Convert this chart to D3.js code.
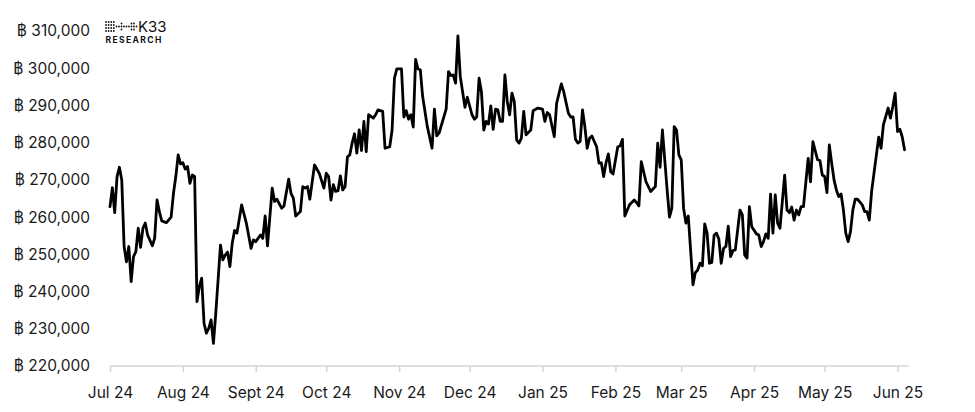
<!DOCTYPE html>
<html>
<head>
<meta charset="utf-8">
<script src="https://cdn.jsdelivr.net/npm/d3@7"></script>
<style>
  html, body { margin: 0; padding: 0; background: #ffffff; }
  svg { display: block; }
  text { font-family: Inter, "Open Sans", "DejaVu Sans", sans-serif; }
</style>
</head>
<body>
<svg id="chart" width="975" height="412"></svg>
<script>
const dates = [
  "2024-07-01","2024-07-02","2024-07-03","2024-07-04","2024-07-05","2024-07-06","2024-07-07","2024-07-08","2024-07-09","2024-07-10",
  "2024-07-11","2024-07-12","2024-07-13","2024-07-14","2024-07-15","2024-07-16","2024-07-17","2024-07-19","2024-07-20","2024-07-21",
  "2024-07-22","2024-07-23","2024-07-25","2024-07-27","2024-07-28","2024-07-29","2024-07-30","2024-07-31",
  "2024-08-01","2024-08-02","2024-08-03","2024-08-04","2024-08-05","2024-08-06","2024-08-07","2024-08-08","2024-08-09","2024-08-10",
  "2024-08-11","2024-08-12","2024-08-13","2024-08-14","2024-08-15","2024-08-17","2024-08-18","2024-08-19","2024-08-20","2024-08-21",
  "2024-08-22","2024-08-23","2024-08-24","2024-08-26","2024-08-28","2024-08-30","2024-08-31",
  "2024-09-01","2024-09-03","2024-09-04","2024-09-05","2024-09-06","2024-09-08","2024-09-09","2024-09-10","2024-09-12","2024-09-13",
  "2024-09-15","2024-09-16","2024-09-17","2024-09-18","2024-09-20","2024-09-21","2024-09-22","2024-09-23","2024-09-24","2024-09-26",
  "2024-09-28","2024-09-30",
  "2024-10-01","2024-10-02","2024-10-03","2024-10-04","2024-10-05","2024-10-06","2024-10-07","2024-10-08","2024-10-09","2024-10-10",
  "2024-10-11","2024-10-12","2024-10-13","2024-10-14","2024-10-15","2024-10-16","2024-10-17","2024-10-18","2024-10-19","2024-10-21",
  "2024-10-22","2024-10-23","2024-10-25","2024-10-26","2024-10-28","2024-10-29","2024-10-30","2024-10-31",
  "2024-11-02","2024-11-03","2024-11-04","2024-11-05","2024-11-06","2024-11-07","2024-11-08","2024-11-09","2024-11-10","2024-11-11",
  "2024-11-13","2024-11-15","2024-11-16","2024-11-17","2024-11-18","2024-11-21","2024-11-22","2024-11-23","2024-11-24","2024-11-25",
  "2024-11-26","2024-11-27","2024-11-29","2024-11-30",
  "2024-12-02","2024-12-03","2024-12-04","2024-12-05","2024-12-06","2024-12-07","2024-12-08","2024-12-09","2024-12-10","2024-12-11",
  "2024-12-12","2024-12-13","2024-12-14","2024-12-15","2024-12-16","2024-12-17","2024-12-18","2024-12-19","2024-12-20","2024-12-21",
  "2024-12-22","2024-12-23","2024-12-24","2024-12-25","2024-12-27","2024-12-28","2024-12-30",
  "2025-01-01","2025-01-02","2025-01-03","2025-01-04","2025-01-06","2025-01-07","2025-01-09","2025-01-10","2025-01-12","2025-01-13",
  "2025-01-14","2025-01-15","2025-01-16","2025-01-17","2025-01-18","2025-01-19","2025-01-20","2025-01-21","2025-01-22","2025-01-24",
  "2025-01-25","2025-01-26","2025-01-27","2025-01-28","2025-01-29","2025-01-30","2025-01-31",
  "2025-02-02","2025-02-03","2025-02-04","2025-02-05","2025-02-07","2025-02-09","2025-02-10","2025-02-11","2025-02-12","2025-02-14",
  "2025-02-16","2025-02-18","2025-02-19","2025-02-20","2025-02-21","2025-02-23","2025-02-24","2025-02-25","2025-02-26","2025-02-27",
  "2025-02-28",
  "2025-03-01","2025-03-02","2025-03-03","2025-03-04","2025-03-06","2025-03-07","2025-03-08","2025-03-09","2025-03-10","2025-03-11",
  "2025-03-12","2025-03-13","2025-03-14","2025-03-15","2025-03-16","2025-03-17","2025-03-18","2025-03-19","2025-03-20","2025-03-21",
  "2025-03-22","2025-03-23","2025-03-24","2025-03-26","2025-03-27","2025-03-28","2025-03-29","2025-03-30","2025-03-31",
  "2025-04-02","2025-04-03","2025-04-04","2025-04-05","2025-04-06","2025-04-07","2025-04-08","2025-04-09","2025-04-10","2025-04-11",
  "2025-04-12","2025-04-14","2025-04-15","2025-04-16","2025-04-17","2025-04-18","2025-04-19","2025-04-20","2025-04-21","2025-04-22",
  "2025-04-24","2025-04-25","2025-04-26","2025-04-28","2025-04-29","2025-04-30",
  "2025-05-01","2025-05-02","2025-05-03","2025-05-04","2025-05-05","2025-05-06","2025-05-07","2025-05-08","2025-05-09","2025-05-10",
  "2025-05-11","2025-05-12","2025-05-13","2025-05-14","2025-05-15","2025-05-17","2025-05-18","2025-05-19","2025-05-20","2025-05-21",
  "2025-05-22","2025-05-24","2025-05-25","2025-05-26","2025-05-28","2025-05-29","2025-05-30","2025-05-31",
  "2025-06-01","2025-06-02","2025-06-03","2025-06-04"
];

const values = [
  262800,267900,261200,270900,273400,270000,252100,248000,252100,242700,
  249400,250700,257000,251900,257000,258400,255200,252300,254300,264600,
  261500,259000,258500,260000,266400,270900,276700,274300,
  274600,272900,273600,269100,271300,270900,237300,241300,243600,231500,
  228800,230100,232400,226100,234200,252500,248500,249800,250600,246700,
  253000,256400,255700,263300,258400,251600,253900,
  253400,255200,254300,260300,252300,267800,264200,264800,262400,263000,
  270200,266400,265100,260300,261500,268200,267800,268200,264800,274000,
  271800,267800,
  271800,270900,264600,268700,266900,267100,271100,267300,268200,276200,
  276700,279900,282400,277200,283400,277900,285700,277600,287500,286600,
  287500,288800,288400,278500,278900,283400,297300,299800,
  299800,286900,288600,286300,287500,284200,302400,299800,299600,292400,
  284300,278500,289000,281800,282600,289000,299100,298000,298200,296000,
  308700,297800,289500,292200,
  287500,286300,286900,297300,293700,283400,285700,285000,289900,283600,
  289000,288800,285700,285700,298200,291000,287500,293300,291000,280700,
  279900,281200,288400,282100,283400,288600,289300,
  289000,285700,288100,287500,281600,290600,295800,293700,287900,286900,
  286900,280900,279900,280300,288800,284300,278500,281200,281800,278900,
  274500,274600,270900,274600,277000,272200,271600,
  278900,279100,280900,260300,263300,264600,263900,263000,274900,269500,
  266900,268200,279900,273400,283400,267300,260000,262400,284300,283400,
  276700,
  275400,262400,258400,260300,241800,245100,245800,247600,246900,258200,
  255700,247600,247800,255200,255700,254100,247600,251600,252100,257600,
  249400,251000,251200,261900,260600,249800,249000,262800,257400,
  255500,255200,252100,253400,255500,254300,266200,255700,266000,258400,
  257000,271300,261900,261200,262700,259200,261900,260600,262800,262800,
  275800,269500,280300,275400,275200,271300,
  270900,266600,279400,274500,270000,267300,265500,266200,261900,255700,
  253400,256100,261900,264800,264800,263300,261500,261500,259200,266900,
  271800,281500,278500,284800,289300,286600,289700,293300,
  283000,283600,281600,278100
];

const yTicks = [220000,230000,240000,250000,260000,270000,280000,290000,300000,310000];
const xTickDates = ["2024-07-01","2024-08-01","2024-09-01","2024-10-01","2024-11-01","2024-12-01",
                    "2025-01-01","2025-02-01","2025-03-01","2025-04-01","2025-05-01","2025-06-01"];
const xTickLabels = ["Jul 24","Aug 24","Sept 24","Oct 24","Nov 24","Dec 24",
                     "Jan 25","Feb 25","Mar 25","Apr 25","May 25","Jun 25"];

const parse = d3.utcParse("%Y-%m-%d");
const data = dates.map((d, i) => ({ date: parse(d), value: values[i] }));

const svg = d3.select("#chart");

const x = d3.scaleUtc()
  .domain([parse("2024-07-01"), parse("2025-06-01")])
  .range([110, 897.5]);

const y = d3.scaleLinear()
  .domain([220000, 310000])
  .range([366, 31]);

// Y axis labels (no axis line)
const fmt = d3.format(",");
svg.append("g")
  .selectAll("text")
  .data(yTicks)
  .join("text")
  .attr("x", 90)
  .attr("y", d => y(d))
  .attr("dy", "0.35em")
  .attr("text-anchor", "end")
  .attr("fill", "#1a1a1a")
  .style("font-size", "15.5px")
  .text(d => "฿ " + fmt(d));

// X axis
const xAxis = d3.axisBottom(x)
  .tickValues(xTickDates.map(parse))
  .tickFormat((d, i) => xTickLabels[i])
  .tickSize(6)
  .tickSizeOuter(0)
  .tickPadding(15);

const gx = svg.append("g")
  .attr("transform", "translate(0,366)")
  .call(xAxis);
gx.select(".domain").attr("stroke", "#d4d4d4").attr("stroke-width", 1.5)
  .attr("d", `M110,0H${x(parse("2025-06-04")) + 4}`);
gx.selectAll(".tick line").attr("stroke", "#d4d4d4").attr("stroke-width", 1.5);
gx.selectAll(".tick text")
  .attr("fill", "#1a1a1a")
  .style("font-size", "15.5px")
  .style("font-family", "Inter, 'Open Sans', 'DejaVu Sans', sans-serif");

// Line
const line = d3.line()
  .x(d => x(d.date))
  .y(d => y(d.value));

svg.append("path")
  .datum(data)
  .attr("fill", "none")
  .attr("stroke", "#000000")
  .attr("stroke-width", 2.8)
  .attr("stroke-linejoin", "round")
  .attr("stroke-linecap", "round")
  .attr("d", line);

// Logo
const logo = svg.append("g").attr("transform", "translate(106,22)");
const dotCols = [0, 2.6, 5.2, 7.8];
[0, 3, 6, 9].forEach(yy => dotCols.forEach(xx => {
  logo.append("circle").attr("cx", xx).attr("cy", yy).attr("r", 0.9).attr("fill", "#111");
}));
[10.5, 13, 15.5, 18, 20.5, 23, 25.5, 28, 30.5].forEach(xx => {
  logo.append("circle").attr("cx", xx).attr("cy", 4.5).attr("r", 0.9).attr("fill", "#111");
});
[[15.5,1.5],[15.5,7.5],[25.5,1.5],[25.5,7.5],[28,1.5],[28,7.5]].forEach(([xx,yy]) => {
  logo.append("circle").attr("cx", xx).attr("cy", yy).attr("r", 0.9).attr("fill", "#111");
});
svg.append("text")
  .attr("x", 138).attr("y", 31.5)
  .attr("fill", "#111")
  .style("font-size", "15px")
  .text("K33");
svg.append("text")
  .attr("x", 105.5).attr("y", 43)
  .attr("fill", "#111")
  .style("font-size", "8.5px")
  .style("font-weight", "700")
  .style("letter-spacing", "1.4px")
  .text("RESEARCH");
</script>
</body>
</html>
